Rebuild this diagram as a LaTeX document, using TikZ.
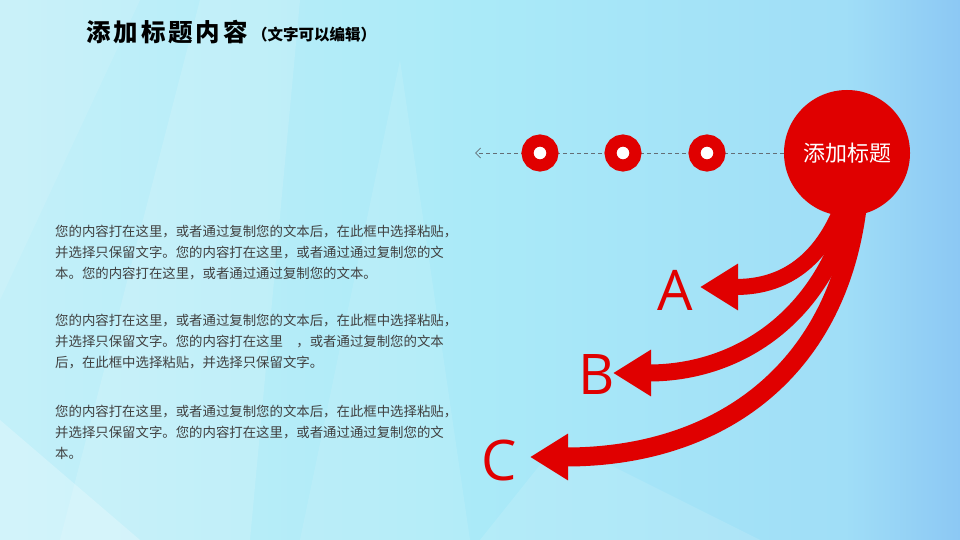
\documentclass[tikz,border=0pt]{standalone}
\usepackage{fontspec}
\setmainfont{Noto Sans CJK SC}
\newfontfamily\latfont{Open Sans}
\usetikzlibrary{arrows.meta}
\definecolor{myred}{RGB}{224,0,0}
\definecolor{bgleft}{RGB}{196,240,249}
\definecolor{bgmid}{RGB}{170,234,248}
\definecolor{bgright}{RGB}{160,222,247}
\definecolor{bgedge}{RGB}{140,200,244}
\definecolor{txtgray}{RGB}{64,64,64}
\definecolor{dashgray}{RGB}{100,110,118}
\pgfdeclarehorizontalshading{bgsh}{100bp}{color(0bp)=(bgleft); color(25bp)=(bgleft); color(50bp)=(bgmid); color(69bp)=(bgright); color(75bp)=(bgedge); color(100bp)=(bgedge)}
\tikzset{
  para/.style={anchor=north west, align=left, inner sep=0pt, text=txtgray,
    font=\fontsize{13.4}{20.8}\selectfont},
  ringnode/.style={circle, draw=myred, line width=12pt, fill=white,
    minimum size=25pt, inner sep=0pt},
  bigcircle/.style={circle, fill=myred, minimum size=126pt, inner sep=0pt,
    text=white, font=\fontsize{22}{26}\selectfont},
  redarrow/.style={draw=myred, line cap=butt,
    -{Triangle[length=38pt,width=44pt]}, myred},
  letter/.style={text=myred, inner sep=0pt, font=\latfont\fontsize{56}{60}\selectfont},
  guide/.style={draw=dashgray, line width=0.8pt, dash pattern=on 4pt off 3pt}
}
\begin{document}
\begin{tikzpicture}[x=1pt,y=-1pt]
\useasboundingbox (0,0) rectangle (960,540);
% background
\shade[shading=bgsh] (0,0) rectangle (960,540);
\fill[white, opacity=0.14] (200,0) -- (300,0) -- (250,540) -- (60,540) -- cycle;
\fill[white, opacity=0.10] (0,0) -- (140,0) -- (0,300) -- cycle;
\fill[white, opacity=0.25] (0,420) -- (140,540) -- (0,540) -- cycle;
\fill[white, opacity=0.10] (400,60) -- (470,540) -- (300,540) -- cycle;
\fill[white, opacity=0.12] (560,440) -- (760,540) -- (480,540) -- cycle;

% title
\node[anchor=west, inner sep=0pt, text=black,
  font=\bfseries\fontsize{24.5}{28}\selectfont\addfontfeatures{LetterSpace=12}] (title) at (86,32) {添加标题内容};
\node[anchor=west, inner sep=0pt, text=black,
  font=\bfseries\fontsize{15.5}{18}\selectfont] (subtitle) at (252,35) {（文字可以编辑）};

% paragraphs
\node[para] (p1) at (55,225) {您的内容打在这里，或者通过复制您的文本后，在此框中选择粘贴，\\并选择只保留文字。您的内容打在这里，或者通过通过复制您的文\\本。您的内容打在这里，或者通过通过复制您的文本。};
\node[para] (p2) at (55,314) {您的内容打在这里，或者通过复制您的文本后，在此框中选择粘贴，\\并选择只保留文字。您的内容打在这里\hspace{1em}，或者通过复制您的文本\\后，在此框中选择粘贴，并选择只保留文字。};
\node[para] (p3) at (55,405) {您的内容打在这里，或者通过复制您的文本后，在此框中选择粘贴，\\并选择只保留文字。您的内容打在这里，或者通过通过复制您的文\\本。};

% curved arrows (drawn first, the circle covers their start)
\coordinate (sA) at (845,200);
\coordinate (sB) at (852,200);
\coordinate (sC) at (858,200);
\coordinate (tA) at (700,287);
\coordinate (tB) at (613,373);
\coordinate (tC) at (530,457);
\draw[redarrow, line width=16pt] (sA) .. controls (825,255) and (790,287) .. (tA);
\draw[redarrow, line width=17pt] (sB) .. controls (826,315) and (740,373) .. (tB);
\draw[redarrow, line width=19pt] (sC) .. controls (840,370) and (720,457) .. (tC);

% dashed guide and circles
\node[bigcircle] (big) at (847,153) {添加标题};
\coordinate (tipL) at (475,153);
\draw[guide, -{Straight Barb[length=5pt,width=10pt]}] (big.west) -- (tipL);
\node[ringnode] (r1) at (540,153) {};
\node[ringnode] (r2) at (623,153) {};
\node[ringnode] (r3) at (707,153) {};

% letters
\node[letter] (la) at (675,290) {A};
\node[letter] (lb) at (597,375) {B};
\node[letter] (lc) at (499,460) {C};
\end{tikzpicture}
\end{document}
